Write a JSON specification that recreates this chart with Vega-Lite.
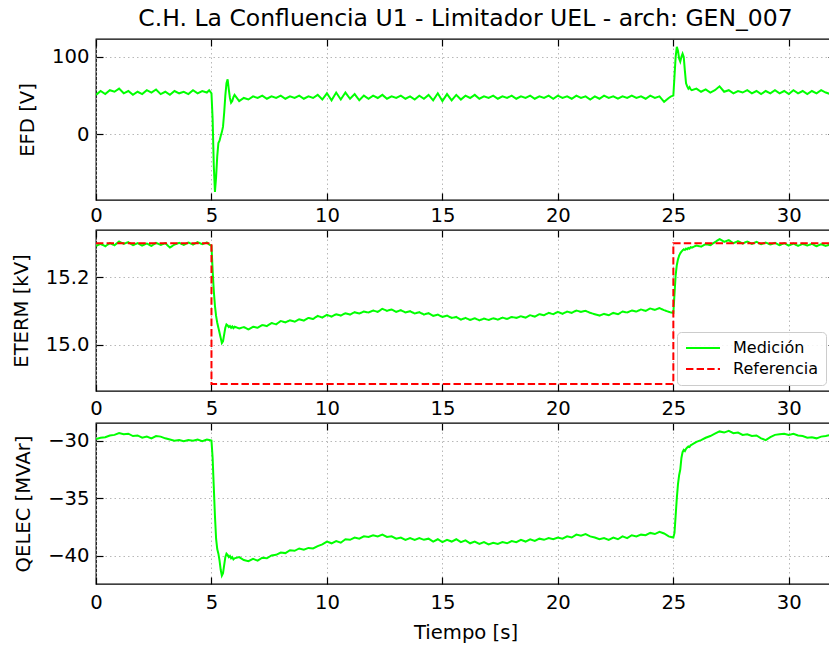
{
  "$schema": "https://vega.github.io/schema/vega-lite/v6.json",
  "padding": {"left": 10, "top": 6, "right": 0, "bottom": 0},
  "background": "white",
  "spacing": 2,
  "config": {
    "font": "DejaVu Sans",
    "view": {"stroke": "black", "strokeWidth": 1.3},
    "axis": {
      "domain": false,
      "grid": true,
      "gridColor": "#b0b0b0",
      "gridDash": [1.5, 3],
      "gridWidth": 0.9,
      "tickColor": "black",
      "tickSize": -7,
      "tickWidth": 1.2,
      "labelFont": "DejaVu Sans",
      "labelFontSize": 19.6,
      "labelColor": "black",
      "labelFlush": false,
      "labelOverlap": false,
      "titleFont": "DejaVu Sans",
      "titleFontSize": 19.6,
      "titleFontWeight": "normal",
      "titleColor": "black"
    },
    "axisX": {"labelPadding": 14},
    "axisY": {"labelPadding": 14, "titlePadding": 14},
    "title": {"font": "DejaVu Sans", "fontSize": 23.5, "fontWeight": "normal", "color": "black"},
    "legend": {
      "labelFont": "DejaVu Sans",
      "labelFontSize": 16,
      "labelColor": "black"
    }
  },
  "datasets": {
    "m": [
      {"t":0.0,"e":51,"v":15.292,"q":-29.85},
      {"t":0.2,"e":56,"v":15.298,"q":-29.75},
      {"t":0.4,"e":52,"v":15.291,"q":-29.7},
      {"t":0.6,"e":57,"v":15.300,"q":-29.55},
      {"t":0.8,"e":55,"v":15.294,"q":-29.5},
      {"t":1.0,"e":59,"v":15.305,"q":-29.35},
      {"t":1.2,"e":53,"v":15.298,"q":-29.45},
      {"t":1.4,"e":56,"v":15.303,"q":-29.4},
      {"t":1.6,"e":51,"v":15.294,"q":-29.6},
      {"t":1.8,"e":55,"v":15.300,"q":-29.55},
      {"t":2.0,"e":52,"v":15.293,"q":-29.75},
      {"t":2.2,"e":57,"v":15.299,"q":-29.65},
      {"t":2.4,"e":54,"v":15.292,"q":-29.8},
      {"t":2.6,"e":58,"v":15.301,"q":-29.6},
      {"t":2.8,"e":52,"v":15.295,"q":-29.65},
      {"t":3.0,"e":55,"v":15.300,"q":-29.8},
      {"t":3.2,"e":51,"v":15.287,"q":-29.9},
      {"t":3.4,"e":56,"v":15.296,"q":-30.0},
      {"t":3.6,"e":53,"v":15.301,"q":-29.95},
      {"t":3.8,"e":55,"v":15.295,"q":-30.05},
      {"t":4.0,"e":52,"v":15.302,"q":-29.95},
      {"t":4.2,"e":57,"v":15.296,"q":-30.0},
      {"t":4.4,"e":53,"v":15.303,"q":-29.9},
      {"t":4.6,"e":56,"v":15.297,"q":-30.05},
      {"t":4.8,"e":54,"v":15.302,"q":-29.9},
      {"t":4.9,"e":57,"v":15.296,"q":-29.95},
      {"t":5.0,"e":53,"v":15.292,"q":-30.0},
      {"t":5.05,"e":20,"v":15.22,"q":-31.5},
      {"t":5.1,"e":-40,"v":15.16,"q":-34.0},
      {"t":5.15,"e":-74,"v":15.115,"q":-36.5},
      {"t":5.2,"e":-55,"v":15.085,"q":-38.5},
      {"t":5.25,"e":-28,"v":15.065,"q":-39.4},
      {"t":5.3,"e":-11,"v":15.05,"q":-39.8},
      {"t":5.35,"e":-8,"v":15.035,"q":-40.4},
      {"t":5.4,"e":-2,"v":15.02,"q":-41.2},
      {"t":5.45,"e":3,"v":15.005,"q":-41.7},
      {"t":5.5,"e":10,"v":15.01,"q":-41.5},
      {"t":5.55,"e":28,"v":15.03,"q":-40.8},
      {"t":5.6,"e":50,"v":15.05,"q":-40.1},
      {"t":5.65,"e":66,"v":15.06,"q":-39.8},
      {"t":5.7,"e":71,"v":15.057,"q":-39.9},
      {"t":5.75,"e":58,"v":15.052,"q":-40.1},
      {"t":5.8,"e":47,"v":15.055,"q":-40.0},
      {"t":5.85,"e":41,"v":15.05,"q":-40.2},
      {"t":5.9,"e":43,"v":15.054,"q":-40.1},
      {"t":5.95,"e":48,"v":15.049,"q":-40.3},
      {"t":6.0,"e":51,"v":15.053,"q":-40.2},
      {"t":6.2,"e":43,"v":15.048,"q":-40.1},
      {"t":6.4,"e":47,"v":15.052,"q":-40.35},
      {"t":6.6,"e":45,"v":15.045,"q":-40.45},
      {"t":6.8,"e":49,"v":15.053,"q":-40.25},
      {"t":7.0,"e":47,"v":15.050,"q":-40.4},
      {"t":7.2,"e":50,"v":15.058,"q":-40.15},
      {"t":7.4,"e":46,"v":15.055,"q":-40.2},
      {"t":7.6,"e":49,"v":15.064,"q":-39.95},
      {"t":7.8,"e":47,"v":15.060,"q":-39.9},
      {"t":8.0,"e":50,"v":15.070,"q":-39.7},
      {"t":8.2,"e":46,"v":15.066,"q":-39.75},
      {"t":8.4,"e":49,"v":15.072,"q":-39.5},
      {"t":8.6,"e":47,"v":15.068,"q":-39.55},
      {"t":8.8,"e":50,"v":15.075,"q":-39.35},
      {"t":9.0,"e":46,"v":15.071,"q":-39.45},
      {"t":9.2,"e":49,"v":15.079,"q":-39.3},
      {"t":9.4,"e":47,"v":15.076,"q":-39.35},
      {"t":9.6,"e":51,"v":15.085,"q":-39.15},
      {"t":9.8,"e":45,"v":15.080,"q":-39.0},
      {"t":10.0,"e":53,"v":15.088,"q":-38.75},
      {"t":10.2,"e":44,"v":15.083,"q":-38.9},
      {"t":10.4,"e":54,"v":15.090,"q":-38.7},
      {"t":10.6,"e":45,"v":15.086,"q":-38.85},
      {"t":10.8,"e":54,"v":15.093,"q":-38.55},
      {"t":11.0,"e":46,"v":15.089,"q":-38.6},
      {"t":11.2,"e":52,"v":15.096,"q":-38.4},
      {"t":11.4,"e":44,"v":15.092,"q":-38.5},
      {"t":11.6,"e":50,"v":15.098,"q":-38.3},
      {"t":11.8,"e":46,"v":15.095,"q":-38.35},
      {"t":12.0,"e":50,"v":15.101,"q":-38.2},
      {"t":12.2,"e":47,"v":15.097,"q":-38.3},
      {"t":12.4,"e":51,"v":15.106,"q":-38.15},
      {"t":12.6,"e":46,"v":15.100,"q":-38.35},
      {"t":12.8,"e":49,"v":15.104,"q":-38.3},
      {"t":13.0,"e":47,"v":15.097,"q":-38.5},
      {"t":13.2,"e":50,"v":15.102,"q":-38.4},
      {"t":13.4,"e":46,"v":15.095,"q":-38.6},
      {"t":13.6,"e":49,"v":15.099,"q":-38.45},
      {"t":13.8,"e":45,"v":15.092,"q":-38.6},
      {"t":14.0,"e":50,"v":15.096,"q":-38.45},
      {"t":14.2,"e":46,"v":15.089,"q":-38.6},
      {"t":14.4,"e":51,"v":15.093,"q":-38.5},
      {"t":14.6,"e":44,"v":15.085,"q":-38.75},
      {"t":14.8,"e":53,"v":15.089,"q":-38.55},
      {"t":15.0,"e":43,"v":15.082,"q":-38.8},
      {"t":15.2,"e":52,"v":15.086,"q":-38.6},
      {"t":15.4,"e":44,"v":15.079,"q":-38.75},
      {"t":15.6,"e":51,"v":15.082,"q":-38.55},
      {"t":15.8,"e":45,"v":15.074,"q":-38.8},
      {"t":16.0,"e":50,"v":15.079,"q":-38.65},
      {"t":16.2,"e":47,"v":15.073,"q":-38.9},
      {"t":16.4,"e":51,"v":15.078,"q":-38.75},
      {"t":16.6,"e":46,"v":15.072,"q":-38.95},
      {"t":16.8,"e":49,"v":15.077,"q":-38.8},
      {"t":17.0,"e":47,"v":15.073,"q":-39.0},
      {"t":17.2,"e":50,"v":15.078,"q":-38.85},
      {"t":17.4,"e":46,"v":15.074,"q":-38.95},
      {"t":17.6,"e":49,"v":15.080,"q":-38.8},
      {"t":17.8,"e":47,"v":15.076,"q":-38.9},
      {"t":18.0,"e":50,"v":15.082,"q":-38.7},
      {"t":18.2,"e":46,"v":15.079,"q":-38.8},
      {"t":18.4,"e":49,"v":15.084,"q":-38.6},
      {"t":18.6,"e":47,"v":15.080,"q":-38.75},
      {"t":18.8,"e":50,"v":15.087,"q":-38.55},
      {"t":19.0,"e":46,"v":15.083,"q":-38.7},
      {"t":19.2,"e":49,"v":15.090,"q":-38.5},
      {"t":19.4,"e":47,"v":15.087,"q":-38.6},
      {"t":19.6,"e":50,"v":15.094,"q":-38.45},
      {"t":19.8,"e":46,"v":15.090,"q":-38.55},
      {"t":20.0,"e":50,"v":15.097,"q":-38.4},
      {"t":20.2,"e":47,"v":15.091,"q":-38.5},
      {"t":20.4,"e":49,"v":15.098,"q":-38.3},
      {"t":20.6,"e":46,"v":15.094,"q":-38.4},
      {"t":20.8,"e":50,"v":15.101,"q":-38.15},
      {"t":21.0,"e":47,"v":15.097,"q":-38.25},
      {"t":21.2,"e":49,"v":15.100,"q":-38.1},
      {"t":21.4,"e":45,"v":15.094,"q":-38.3},
      {"t":21.6,"e":49,"v":15.090,"q":-38.4},
      {"t":21.8,"e":46,"v":15.086,"q":-38.55},
      {"t":22.0,"e":50,"v":15.091,"q":-38.45},
      {"t":22.2,"e":47,"v":15.087,"q":-38.6},
      {"t":22.4,"e":49,"v":15.094,"q":-38.4},
      {"t":22.6,"e":46,"v":15.090,"q":-38.55},
      {"t":22.8,"e":49,"v":15.098,"q":-38.3},
      {"t":23.0,"e":47,"v":15.095,"q":-38.45},
      {"t":23.2,"e":50,"v":15.101,"q":-38.2},
      {"t":23.4,"e":47,"v":15.098,"q":-38.3},
      {"t":23.6,"e":49,"v":15.104,"q":-38.15},
      {"t":23.8,"e":46,"v":15.100,"q":-38.2},
      {"t":24.0,"e":50,"v":15.107,"q":-38.0},
      {"t":24.2,"e":47,"v":15.103,"q":-38.1},
      {"t":24.4,"e":49,"v":15.108,"q":-37.9},
      {"t":24.6,"e":42,"v":15.102,"q":-38.05},
      {"t":24.8,"e":47,"v":15.097,"q":-38.3},
      {"t":24.9,"e":49,"v":15.095,"q":-38.35},
      {"t":25.0,"e":50,"v":15.094,"q":-38.4},
      {"t":25.05,"e":75,"v":15.15,"q":-38.0},
      {"t":25.1,"e":100,"v":15.205,"q":-36.5},
      {"t":25.15,"e":113,"v":15.235,"q":-35.0},
      {"t":25.2,"e":108,"v":15.252,"q":-33.8},
      {"t":25.25,"e":98,"v":15.263,"q":-33.0},
      {"t":25.3,"e":94,"v":15.27,"q":-32.5},
      {"t":25.35,"e":100,"v":15.275,"q":-31.5},
      {"t":25.4,"e":104,"v":15.279,"q":-31.0},
      {"t":25.45,"e":100,"v":15.282,"q":-30.8},
      {"t":25.5,"e":82,"v":15.280,"q":-30.9},
      {"t":25.55,"e":66,"v":15.284,"q":-30.7},
      {"t":25.6,"e":62,"v":15.282,"q":-30.6},
      {"t":25.65,"e":59,"v":15.286,"q":-30.5},
      {"t":25.7,"e":61,"v":15.284,"q":-30.55},
      {"t":25.75,"e":58,"v":15.288,"q":-30.4},
      {"t":25.8,"e":57,"v":15.287,"q":-30.35},
      {"t":26.0,"e":59,"v":15.293,"q":-30.1},
      {"t":26.2,"e":55,"v":15.290,"q":-29.95},
      {"t":26.4,"e":58,"v":15.297,"q":-29.75},
      {"t":26.6,"e":54,"v":15.294,"q":-29.6},
      {"t":26.8,"e":57,"v":15.303,"q":-29.4},
      {"t":27.0,"e":62,"v":15.312,"q":-29.2},
      {"t":27.2,"e":55,"v":15.304,"q":-29.3},
      {"t":27.4,"e":57,"v":15.309,"q":-29.15},
      {"t":27.6,"e":53,"v":15.300,"q":-29.35},
      {"t":27.8,"e":56,"v":15.306,"q":-29.3},
      {"t":28.0,"e":54,"v":15.299,"q":-29.5},
      {"t":28.2,"e":57,"v":15.305,"q":-29.45},
      {"t":28.4,"e":53,"v":15.298,"q":-29.6},
      {"t":28.6,"e":56,"v":15.304,"q":-29.55},
      {"t":28.8,"e":52,"v":15.297,"q":-29.8},
      {"t":29.0,"e":56,"v":15.302,"q":-29.95},
      {"t":29.2,"e":53,"v":15.296,"q":-29.7},
      {"t":29.4,"e":57,"v":15.301,"q":-29.5},
      {"t":29.6,"e":53,"v":15.294,"q":-29.45},
      {"t":29.8,"e":56,"v":15.300,"q":-29.4},
      {"t":30.0,"e":52,"v":15.293,"q":-29.5},
      {"t":30.2,"e":57,"v":15.299,"q":-29.4},
      {"t":30.4,"e":53,"v":15.292,"q":-29.55},
      {"t":30.6,"e":56,"v":15.298,"q":-29.6},
      {"t":30.8,"e":52,"v":15.293,"q":-29.75},
      {"t":31.0,"e":56,"v":15.298,"q":-29.7},
      {"t":31.2,"e":53,"v":15.291,"q":-29.8},
      {"t":31.4,"e":57,"v":15.297,"q":-29.65},
      {"t":31.6,"e":54,"v":15.292,"q":-29.6},
      {"t":31.8,"e":52,"v":15.296,"q":-29.5},
      {"t":32.0,"e":55,"v":15.290,"q":-29.6}
    ],
    "ref": [
      {"t":0.0,"r":15.3},
      {"t":5.0,"r":14.884},
      {"t":25.0,"r":15.3},
      {"t":32.0,"r":15.3}
    ]
  },
  "vconcat": [
    {
      "title": {"text": "C.H. La Confluencia U1 - Limitador UEL - arch: GEN_007", "frame": "group", "anchor": "middle", "offset": 8},
      "width": 739,
      "height": 161,
      "data": {"name": "m"},
      "resolve": {"axis": {"x": "independent", "y": "independent"}},
      "layer": [
        {
          "mark": {"type": "line", "color": "#00ff00", "strokeWidth": 2, "clip": true},
          "encoding": {
            "x": {"field": "t", "type": "quantitative", "scale": {"domain": [0, 32], "nice": false, "zero": false}, "axis": {"values": [0,5,10,15,20,25,30], "title": null, "labelPadding": 13}},
            "y": {"field": "e", "type": "quantitative", "scale": {"domain": [-84.5, 123], "nice": false, "zero": false}, "axis": {"values": [0, 100], "format": "d", "title": "EFD [V]"}}
          }
        },
        {
          "mark": {"type": "line", "opacity": 0, "clip": true},
          "encoding": {
            "x": {"field": "t", "type": "quantitative", "axis": {"orient": "top", "values": [0,5,10,15,20,25,30], "labels": false, "grid": false, "title": null}},
            "y": {"field": "e", "type": "quantitative", "axis": {"orient": "right", "values": [0, 100], "labels": false, "grid": false, "title": null}}
          }
        }
      ]
    },
    {
      "width": 739,
      "height": 161,
      "resolve": {"axis": {"x": "independent", "y": "independent"}},
      "layer": [
        {
          "data": {"name": "m"},
          "mark": {"type": "line", "strokeWidth": 2, "clip": true},
          "encoding": {
            "x": {"field": "t", "type": "quantitative", "scale": {"domain": [0, 32], "nice": false, "zero": false}, "axis": {"values": [0,5,10,15,20,25,30], "title": null, "labelPadding": 15}},
            "y": {"field": "v", "type": "quantitative", "scale": {"domain": [14.863, 15.339], "nice": false, "zero": false}, "axis": {"values": [15.0, 15.2], "format": ".1f", "title": "ETERM [kV]"}},
            "color": {"datum": "Medición", "type": "nominal", "scale": {"domain": ["Medición", "Referencia"], "range": ["#00ff00", "#ff0000"]}, "legend": {"title": null, "orient": "none", "legendX": 581, "legendY": 293, "fillColor": "rgba(255,255,255,0.85)", "strokeColor": "#cccccc", "cornerRadius": 4, "padding": 8, "rowPadding": 5, "clipHeight": 16, "symbolType": "stroke", "symbolSize": 1156, "symbolStrokeWidth": 2, "labelOffset": 12, "labelFontSize": 16}},
            "strokeDash": {"datum": "Medición", "type": "nominal", "scale": {"domain": ["Medición", "Referencia"], "range": [[1, 0], [7.4, 3.2]]}, "legend": {"title": null, "orient": "none", "legendX": 581, "legendY": 293, "fillColor": "rgba(255,255,255,0.85)", "strokeColor": "#cccccc", "cornerRadius": 4, "padding": 8, "rowPadding": 5, "clipHeight": 16, "symbolType": "stroke", "symbolSize": 1156, "symbolStrokeWidth": 2, "labelOffset": 12, "labelFontSize": 16}}
          }
        },
        {
          "data": {"name": "ref"},
          "mark": {"type": "line", "strokeWidth": 2, "interpolate": "step-after", "clip": true},
          "encoding": {
            "x": {"field": "t", "type": "quantitative", "axis": {"orient": "top", "values": [0,5,10,15,20,25,30], "labels": false, "grid": false, "title": null}},
            "y": {"field": "r", "type": "quantitative", "axis": {"orient": "right", "values": [15.0, 15.2], "labels": false, "grid": false, "title": null}},
            "color": {"datum": "Referencia", "type": "nominal"},
            "strokeDash": {"datum": "Referencia", "type": "nominal"}
          }
        }
      ]
    },
    {
      "width": 739,
      "height": 161,
      "data": {"name": "m"},
      "resolve": {"axis": {"x": "independent", "y": "independent"}},
      "layer": [
        {
          "mark": {"type": "line", "color": "#00ff00", "strokeWidth": 2, "clip": true},
          "encoding": {
            "x": {"field": "t", "type": "quantitative", "scale": {"domain": [0, 32], "nice": false, "zero": false}, "axis": {"values": [0,5,10,15,20,25,30], "title": "Tiempo [s]", "titlePadding": 12, "labelPadding": 16}},
            "y": {"field": "q", "type": "quantitative", "scale": {"domain": [-42.43, -28.47], "nice": false, "zero": false}, "axis": {"values": [-40, -35, -30], "format": "d", "title": "QELEC [MVAr]"}}
          }
        },
        {
          "mark": {"type": "line", "opacity": 0, "clip": true},
          "encoding": {
            "x": {"field": "t", "type": "quantitative", "axis": {"orient": "top", "values": [0,5,10,15,20,25,30], "labels": false, "grid": false, "title": null}},
            "y": {"field": "q", "type": "quantitative", "axis": {"orient": "right", "values": [-40, -35, -30], "labels": false, "grid": false, "title": null}}
          }
        }
      ]
    }
  ]
}
